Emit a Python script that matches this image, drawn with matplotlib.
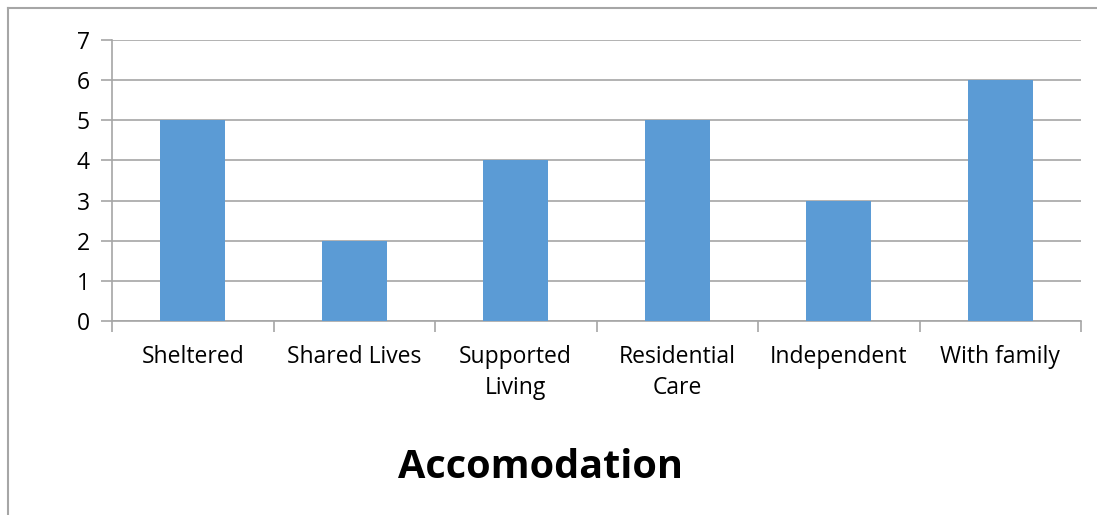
import matplotlib
matplotlib.use('Agg')
import matplotlib.pyplot as plt
from matplotlib.lines import Line2D

# accommodation types and counts
categorias = ['Sheltered', 'Shared Lives', 'Supported\nLiving', 'Residential\nCare', 'Independent', 'With family']
valores = [5, 2, 4, 5, 3, 6]
titulo = 'Accomodation'

plt.rcParams['font.family'] = ['Open Sans', 'DejaVu Sans']

fig = plt.figure(figsize=(10.97, 5.15), dpi=100)
ax = fig.add_axes([112/1097, 1-321/515, (1081-112)/1097, (321-40)/515])

x = range(len(categorias))
ax.bar(x, valores, width=0.4, color='#5b9bd5', zorder=3)

ax.set_xlim(-0.5, len(categorias) - 0.5)
ax.set_ylim(0, 7)
ax.set_yticks(range(0, 8))
ax.yaxis.grid(True, color='#a6a6a6', linewidth=1.2, zorder=0)

# ticks on category boundaries, labels centred under bars
ax.set_xticks([i - 0.5 for i in range(len(categorias) + 1)])
ax.set_xticklabels([])
ax.set_xticks(list(x), minor=True)
ax.set_xticklabels(categorias, minor=True, fontsize=16.5, linespacing=1.42)
ax.tick_params(axis='x', which='minor', length=0, pad=17)
ax.tick_params(axis='x', which='major', length=8, color='#a6a6a6', width=1.2)
ax.tick_params(axis='y', length=8, color='#a6a6a6', width=1.2, labelsize=16.5, pad=8)

for lado in ['top', 'right']:
    ax.spines[lado].set_visible(False)
for lado in ['left', 'bottom']:
    ax.spines[lado].set_color('#a6a6a6')
    ax.spines[lado].set_linewidth(1.2)

# outer chart frame
fig.add_artist(Line2D([8/1097, 1], [1-8/515, 1-8/515], color='#a6a6a6', linewidth=1.5))
fig.add_artist(Line2D([8/1097, 8/1097], [0, 1-8/515], color='#a6a6a6', linewidth=1.5))

fig.text(541/1097, 1-467/515, titulo, ha='center', va='center', fontsize=28.5, fontweight='bold')

plt.savefig('out.png')
